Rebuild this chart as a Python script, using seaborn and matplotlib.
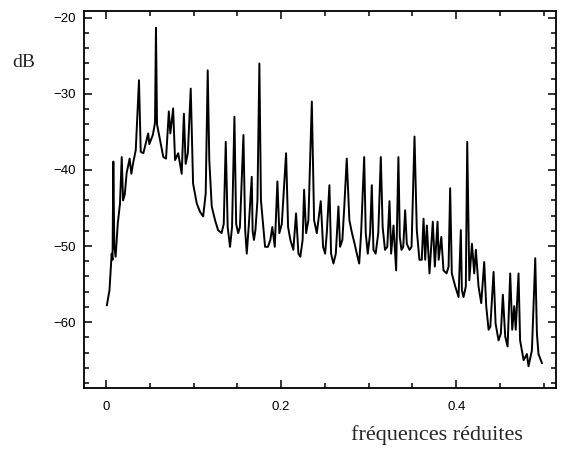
import numpy as np
import pandas as pd
import matplotlib
matplotlib.use("Agg")
import matplotlib.pyplot as plt
from matplotlib.ticker import MultipleLocator, FixedLocator, FixedFormatter
import seaborn as sns

# reduced frequency
freq = [
    0.001, 0.004, 0.0065, 0.0075, 0.0084, 0.0095, 0.011, 0.0135, 0.016, 0.018,
    0.0195, 0.0215, 0.0236, 0.027, 0.029, 0.031, 0.034, 0.0377, 0.0397, 0.0427,
    0.0482, 0.0495, 0.0535, 0.056, 0.0571, 0.0583, 0.0617, 0.0655, 0.0686, 0.0718,
    0.0735, 0.0767, 0.0789, 0.0825, 0.0865, 0.089, 0.091, 0.0935, 0.0968, 0.0995,
    0.1037, 0.1074, 0.111, 0.1139, 0.1162, 0.118, 0.1208, 0.1246, 0.128, 0.132,
    0.1345, 0.1368, 0.139, 0.1417, 0.144, 0.1467, 0.1487, 0.151, 0.153, 0.157,
    0.159, 0.1608, 0.163, 0.1665, 0.1675, 0.169, 0.1707, 0.173, 0.1752, 0.177,
    0.179, 0.1817, 0.185, 0.1877, 0.190, 0.1928, 0.1958, 0.198, 0.2008, 0.2057,
    0.208, 0.2106, 0.214, 0.2171, 0.2198, 0.222, 0.2246, 0.2263, 0.2286, 0.2312,
    0.2351, 0.2377, 0.2408, 0.2453, 0.248, 0.2503, 0.2522, 0.2552, 0.2571, 0.2598,
    0.2625, 0.2655, 0.2674, 0.270, 0.2722, 0.275, 0.278, 0.281, 0.284, 0.2865,
    0.2892, 0.2914, 0.2949, 0.2967, 0.299, 0.3017, 0.3036, 0.3055, 0.308, 0.311,
    0.3139, 0.316, 0.3187, 0.3213, 0.3238, 0.3257, 0.3284, 0.3314, 0.334, 0.3356,
    0.3375, 0.3395, 0.3417, 0.3436, 0.3467, 0.349, 0.3524, 0.355, 0.358, 0.3607,
    0.3627, 0.3646, 0.3665, 0.3695, 0.3733, 0.3756, 0.3787, 0.380, 0.383, 0.3855,
    0.389, 0.3913, 0.3931, 0.395, 0.3989, 0.4027, 0.4053, 0.4065, 0.4084, 0.411,
    0.4126, 0.415, 0.418, 0.4206, 0.4225, 0.4255, 0.4286, 0.432, 0.4343, 0.437,
    0.439, 0.4427, 0.445, 0.4484, 0.451, 0.4533, 0.456, 0.4587, 0.4617, 0.464,
    0.4663, 0.468, 0.4712, 0.473, 0.477, 0.4808, 0.4826, 0.4865, 0.4903, 0.4922,
    0.494, 0.498,
]

# level in dB
level_db = [
    -57.8, -55.8, -51.0, -51.8, -38.9, -50.0, -51.4, -47.0, -44.4, -38.3,
    -44.0, -43.2, -40.4, -38.5, -40.5, -39.1, -37.4, -28.2, -37.6, -37.8,
    -35.2, -36.6, -35.4, -33.8, -21.3, -34.0, -36.0, -38.3, -38.5, -32.3,
    -35.2, -31.9, -38.7, -37.8, -40.5, -32.6, -39.2, -37.8, -29.3, -41.8,
    -44.4, -45.5, -46.1, -43.1, -26.9, -38.7, -44.8, -46.6, -47.9, -48.3,
    -47.1, -36.3, -47.5, -50.1, -47.5, -33.0, -47.1, -48.3, -47.5, -35.4,
    -47.9, -51.0, -47.5, -40.9, -48.0, -49.2, -47.9, -44.0, -26.0, -44.0,
    -46.6, -50.1, -50.1, -49.2, -47.5, -50.1, -41.5, -48.3, -47.1, -37.8,
    -47.5, -49.2, -50.5, -45.7, -51.0, -51.4, -49.2, -42.6, -48.3, -46.6,
    -31.0, -46.6, -48.3, -44.1, -50.1, -51.0, -48.3, -42.0, -51.0, -52.3,
    -51.0, -44.8, -50.1, -49.2, -44.8, -38.5, -46.6, -48.3, -49.7, -51.0,
    -52.3, -48.3, -38.3, -48.3, -51.0, -48.3, -42.0, -50.5, -51.0, -48.3,
    -38.3, -47.5, -50.5, -50.1, -44.1, -51.0, -47.3, -53.2, -38.3, -48.8,
    -50.5, -50.1, -45.3, -49.7, -50.5, -50.1, -35.6, -47.9, -51.8, -51.8,
    -46.4, -51.8, -47.3, -53.6, -46.8, -52.7, -46.8, -51.8, -48.8, -53.2,
    -53.6, -52.7, -42.4, -53.6, -55.3, -56.7, -47.9, -55.8, -56.7, -55.3,
    -36.3, -54.5, -49.7, -53.6, -50.5, -55.3, -57.5, -52.1, -57.9, -61.0,
    -60.6, -53.4, -60.2, -62.4, -61.5, -56.4, -61.9, -63.2, -53.6, -61.0,
    -57.9, -61.0, -53.6, -62.4, -65.0, -64.2, -65.8, -63.7, -51.6, -61.5,
    -64.2, -65.4,
]

x_ticks = [0, 0.2, 0.4]
x_tick_labels = ["0", "0.2", "0.4"]
y_ticks = [-60, -50, -40, -30, -20]
y_tick_labels = ["\u221260", "\u221250", "\u221240", "\u221230", "\u221220"]

df = pd.DataFrame({"freq": freq, "dB": level_db})

sns.set_style("ticks")
plt.rcParams["font.family"] = ["Liberation Sans", "DejaVu Sans"]

fig = plt.figure(figsize=(5.61, 4.57), dpi=100)
ax = fig.add_axes([84 / 561, 1 - 388 / 457, (556 - 84) / 561, (388 - 11) / 457])

sns.lineplot(data=df, x="freq", y="dB", color="black", linewidth=1.4,
             ax=ax, sort=False, estimator=None)

ax.set_xlim(-0.0251, 0.514)
ax.set_ylim(-68.66, -19.1)

ax.xaxis.set_major_locator(FixedLocator(x_ticks))
ax.xaxis.set_major_formatter(FixedFormatter(x_tick_labels))
ax.xaxis.set_minor_locator(MultipleLocator(0.05))
ax.yaxis.set_major_locator(FixedLocator(y_ticks))
ax.yaxis.set_major_formatter(FixedFormatter(y_tick_labels))
ax.yaxis.set_minor_locator(MultipleLocator(2))

ax.tick_params(which="both", direction="in", top=True, right=True,
               width=1.1, colors="black", labelsize=9.5)
ax.tick_params(which="major", length=6, pad=6)
ax.tick_params(which="minor", length=3.5)
ax.tick_params(axis="x", which="major", pad=9)

for s in ax.spines.values():
    s.set_visible(True)
    s.set_linewidth(1.3)
    s.set_color("black")

ax.set_xlabel("")
ax.set_ylabel("")

fig.text(12 / 561, 1 - 67 / 457, "dB", family=["Liberation Serif", "DejaVu Serif"],
         fontsize=14, ha="left", va="baseline")
fig.text(437 / 561, 1 - 440 / 457, "fréquences réduites",
         family=["Liberation Serif", "DejaVu Serif"], fontsize=16,
         ha="center", va="baseline")

fig.savefig("out.png", dpi=100)
